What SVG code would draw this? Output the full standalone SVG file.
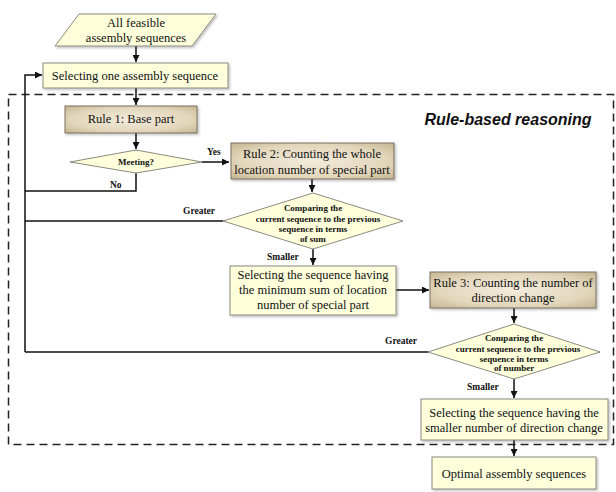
<svg xmlns="http://www.w3.org/2000/svg" width="616" height="492" viewBox="0 0 616 492">
<defs>
<radialGradient id="tan" cx="0.5" cy="0.5" r="0.75">
<stop offset="0" stop-color="#f3ecdc"/>
<stop offset="0.6" stop-color="#e2d6bb"/>
<stop offset="1" stop-color="#bfae88"/>
</radialGradient>
<marker id="ah" viewBox="0 0 10 10" refX="10" refY="5" markerWidth="7" markerHeight="7" orient="auto" markerUnits="userSpaceOnUse">
<path d="M0,0 L10,5 L0,10 z" fill="#111"/>
</marker>
<filter id="sh" x="-5%" y="-5%" width="115%" height="125%">
<feDropShadow dx="1.5" dy="1.5" stdDeviation="1" flood-color="#000" flood-opacity="0.25"/>
</filter>
</defs>
<style>
.box{fill:#ffffdc;stroke:#8a8a80;stroke-width:1;filter:url(#sh)}
.rule{fill:url(#tan);stroke:#7a7060;stroke-width:1;filter:url(#sh)}
.dia{fill:#ffffdc;stroke:#8a8a80;stroke-width:1}
.t{font-family:"Liberation Serif","Times New Roman",serif;font-size:12.5px;fill:#111;text-anchor:middle}
.s{font-family:"Liberation Serif","Times New Roman",serif;font-size:9px;font-weight:bold;fill:#111;text-anchor:middle}
.lbl{font-family:"Liberation Serif","Times New Roman",serif;font-size:9.5px;font-weight:bold;fill:#111}
.c{fill:none;stroke:#111;stroke-width:1.5}
.a{fill:none;stroke:#111;stroke-width:1.5;marker-end:url(#ah)}
.dash{fill:none;stroke:#222;stroke-width:1.5;stroke-dasharray:8 5}
.title{font-family:"Liberation Sans",Arial,sans-serif;font-size:16px;font-weight:bold;font-style:italic;fill:#111;text-anchor:middle}
</style>
<rect class="dash" x="8.5" y="94.5" width="605" height="350"/>
<text class="title" x="508" y="125">Rule-based reasoning</text>
<g id="connectors">
<path class="a" d="M136,46 V62"/>
<path class="a" d="M136,88 V105"/>
<path class="a" d="M136,133 V149"/>
<path class="a" d="M202,162 H229"/>
<path class="c" d="M136,173 V191 H25"/>
<path class="a" d="M25,352 V75 H42"/>
<path class="a" d="M312,179 V192"/>
<path class="c" d="M223,221 H25"/>
<path class="a" d="M313,249 V265"/>
<path class="a" d="M396,290 H429"/>
<path class="a" d="M514,308 V323"/>
<path class="c" d="M428,352 H25"/>
<path class="a" d="M514,379 V398"/>
<path class="a" d="M514,440 V456"/>
<text class="lbl" x="207" y="155">Yes</text>
<text class="lbl" x="110" y="188">No</text>
<text class="lbl" x="183" y="214">Greater</text>
<text class="lbl" x="267" y="260">Smaller</text>
<text class="lbl" x="385" y="344">Greater</text>
<text class="lbl" x="467" y="390">Smaller</text>
</g>
<g id="n_all">
<polygon class="box" points="79,14 216,14 192,46 55,46"/>
<text class="t" x="136" y="27">All feasible</text>
<text class="t" x="136" y="42">assembly sequences</text>
</g>
<g id="n_select">
<rect class="box" x="43" y="63" width="185" height="25"/>
<text class="t" x="135" y="80">Selecting one assembly sequence</text>
</g>
<g id="n_rule1">
<rect class="rule" x="65" y="106" width="132" height="27"/>
<text class="t" x="131" y="123">Rule 1: Base part</text>
</g>
<g id="n_meeting">
<polygon class="dia" points="136,150 202,162 136,173 70,162"/>
<text class="s" x="136" y="165">Meeting?</text>
</g>
<g id="n_rule2">
<rect class="rule" x="231" y="143" width="163" height="36"/>
<text class="t" x="312" y="158">Rule 2: Counting the whole</text>
<text class="t" x="312" y="174">location number of special part</text>
</g>
<g id="n_cmp1">
<polygon class="dia" points="313,193 403,221 313,249 223,221"/>
<text class="s" x="313" y="211">Comparing the</text>
<text class="s" x="318" y="222">current sequence to the previous</text>
<text class="s" x="313" y="232">sequence in terms</text>
<text class="s" x="313" y="242">of sum</text>
</g>
<g id="n_selmin">
<rect class="box" x="230" y="266" width="166" height="49"/>
<text class="t" x="313" y="279">Selecting  the sequence having</text>
<text class="t" x="313" y="294">the minimum sum of  location</text>
<text class="t" x="313" y="309">number of special part</text>
</g>
<g id="n_rule3">
<rect class="rule" x="430" y="272" width="166" height="36"/>
<text class="t" x="513" y="287">Rule 3: Counting the number of</text>
<text class="t" x="513" y="302">direction change</text>
</g>
<g id="n_cmp2">
<polygon class="dia" points="514,324 600,352 514,379 428,352"/>
<text class="s" x="514" y="341">Comparing the</text>
<text class="s" x="518" y="352">current sequence to the previous</text>
<text class="s" x="514" y="362">sequence in terms</text>
<text class="s" x="514" y="371">of number</text>
</g>
<g id="n_selsmall">
<rect class="box" x="421" y="399" width="187" height="41"/>
<text class="t" x="514" y="417">Selecting  the sequence having the</text>
<text class="t" x="514" y="432">smaller number of direction change</text>
</g>
<g id="n_opt">
<rect class="box" x="432" y="457" width="164" height="32"/>
<text class="t" x="514" y="478">Optimal assembly sequences</text>
</g>
</svg>
